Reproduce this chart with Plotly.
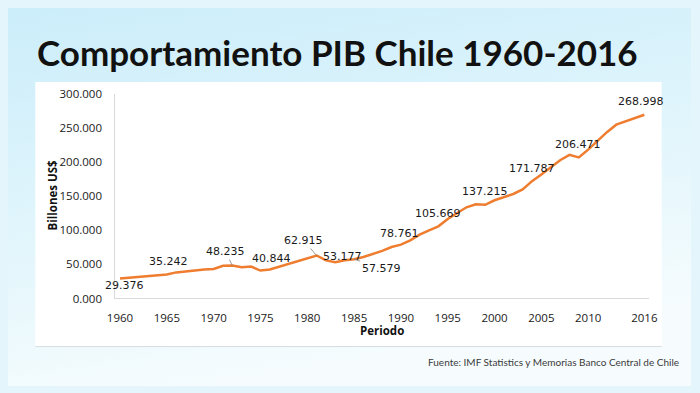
import base64
import plotly.graph_objects as go

# ---------------- data ----------------
years = list(range(1960, 2017))
pib = [29.376, 30.6, 32.0, 33.6, 34.6, 35.242, 38.2, 39.8, 41.0, 42.5,
       43.3, 48.0, 48.235, 45.6, 46.8, 40.844, 42.4, 46.4, 50.2, 54.4,
       58.6, 62.915, 55.8, 53.177, 55.9, 57.579, 60.8, 64.8, 69.6, 75.4,
       78.761, 85.0, 93.5, 99.8, 105.669, 116.5, 125.5, 133.5, 138.0, 137.215,
       143.8, 148.5, 153.0, 159.8, 171.787, 181.5, 192.0, 202.5, 210.3, 206.471,
       218.0, 231.0, 243.5, 254.5, 259.5, 264.5, 268.998]

x_ticks = [1960, 1965, 1970, 1975, 1980, 1985, 1990, 1995, 2000, 2005, 2010, 2016]
y_ticks = [0, 50, 100, 150, 200, 250, 300]
y_ticktext = ["0.000", "50.000", "100.000", "150.000", "200.000", "250.000", "300.000"]

# labelled points: year, label
label_years = [1960, 1965, 1972, 1975, 1981, 1983, 1985, 1990, 1994, 1999, 2004, 2009, 2016]
label_texts = ["29.376", "35.242", "48.235", "40.844", "62.915", "53.177", "57.579",
               "78.761", "105.669", "137.215", "171.787", "206.471", "268.998"]

title_text = "Comportamiento PIB Chile 1960-2016"
source_text = "Fuente: IMF Statistics y Memorias Banco Central de Chile"

# ---------------- layout helpers ----------------
W, H = 700, 393
def px(x):
    return x / W
def py(y):
    return 1 - y / H

# label offsets (pixels) and leader flags
label_style = {
    1960: dict(dx=4, dy=7, leader=False),
    1965: dict(dx=2, dy=-13, leader=False),
    1972: dict(dx=-7, dy=-14, leader=True),
    1975: dict(dx=11, dy=-12, leader=False),
    1981: dict(dx=-13, dy=-15, leader=True),
    1983: dict(dx=7, dy=-6, leader=False),
    1985: dict(dx=27, dy=9, leader=True),
    1990: dict(dx=-1, dy=-11, leader=False),
    1994: dict(dx=0, dy=-13, leader=False),
    1999: dict(dx=0, dy=-13, leader=False),
    2004: dict(dx=0, dy=-13, leader=False),
    2009: dict(dx=-1, dy=-13, leader=False),
    2016: dict(dx=-3, dy=-13, leader=False),
}

svg = ('<svg xmlns="http://www.w3.org/2000/svg" width="700" height="393">'
       '<defs><linearGradient id="g" x1="0" y1="0" x2="0.3" y2="1">'
       '<stop offset="0" stop-color="#cbedfa"/><stop offset="0.6" stop-color="#e3f6fc"/>'
       '<stop offset="1" stop-color="#f6fcfe"/></linearGradient></defs>'
       '<rect width="700" height="393" fill="url(#g)"/></svg>')
bg_src = "data:image/svg+xml;base64," + base64.b64encode(svg.encode()).decode()

fig = go.Figure()
fig.add_trace(go.Scatter(
    x=years, y=pib, mode="lines",
    line=dict(color="#EE7D30", width=2.5),
    hoverinfo="skip", showlegend=False,
))

annotations = []
val_by_year = dict(zip(years, pib))
for yr, txt in zip(label_years, label_texts):
    st = label_style[yr]
    if st["leader"]:
        annotations.append(dict(
            x=yr, y=val_by_year[yr], xref="x", yref="y", text=txt,
            showarrow=True, arrowhead=0, arrowwidth=0.8, arrowcolor="#7f7f7f",
            ax=st["dx"], ay=st["dy"], standoff=0,
            font=dict(family="DejaVu Sans", size=11, color="#1a1a1a"),
        ))
    else:
        annotations.append(dict(
            x=yr, y=val_by_year[yr], xref="x", yref="y", text=txt,
            showarrow=False, xshift=st["dx"], yshift=-st["dy"],
            font=dict(family="DejaVu Sans", size=11, color="#1a1a1a"),
        ))

annotations += [
    dict(text="<b>" + title_text + "</b>", x=px(28), y=py(46), xref="paper", yref="paper",
         xanchor="left", yanchor="middle", showarrow=False,
         font=dict(family="Lato", size=35, color="#111111")),
    dict(text=source_text, x=px(690), y=py(368), xref="paper", yref="paper",
         xanchor="right", yanchor="middle", showarrow=False,
         font=dict(family="Lato", size=10, color="#3a3a3a")),
    dict(text="<b>Billones US$</b>", x=px(46), y=py(195), xref="paper", yref="paper",
         xanchor="center", yanchor="middle", showarrow=False, textangle=-90,
         font=dict(family="Open Sans", size=11.5, color="#111111")),
    dict(text="<b>Periodo</b>", x=px(383), y=py(335), xref="paper", yref="paper",
         xanchor="center", yanchor="middle", showarrow=False,
         font=dict(family="Open Sans", size=11.5, color="#111111")),
]

shapes = [
    dict(type="rect", xref="paper", yref="paper", x0=px(28), x1=px(670), y0=py(352), y1=py(77),
         fillcolor="white", line=dict(width=0), layer="below"),
    dict(type="line", xref="paper", yref="paper", x0=px(28), x1=px(670), y0=py(352), y1=py(352),
         line=dict(color="#d6dde0", width=1), layer="below"),
]

fig.update_layout(
    width=W, height=H,
    margin=dict(l=0, r=0, t=0, b=0),
    paper_bgcolor="#e4f6fc",
    plot_bgcolor="rgba(0,0,0,0)",
    images=[dict(source=bg_src, xref="paper", yref="paper", x=0, y=1, sizex=1, sizey=1,
                 sizing="stretch", layer="below", xanchor="left", yanchor="top")],
    shapes=shapes,
    annotations=annotations,
    xaxis=dict(
        domain=[px(110), px(657)], range=[1959.5, 2016.5],
        tickvals=x_ticks, ticktext=[str(v) for v in x_ticks],
        showgrid=False, zeroline=False, showline=True, linecolor="#d9d9d9", linewidth=1,
        ticks="", ticklabelstandoff=9,
        tickfont=dict(family="Open Sans", size=11.5, color="#1a1a1a"),
    ),
    yaxis=dict(
        domain=[py(302), py(89)], range=[0, 300],
        tickvals=y_ticks, ticktext=y_ticktext,
        showgrid=False, zeroline=False, showline=True, linecolor="#d9d9d9", linewidth=1,
        ticks="", ticklabelstandoff=10,
        tickfont=dict(family="Open Sans", size=11.5, color="#1a1a1a"),
    ),
    showlegend=False,
)

fig.write_html("out.html")
